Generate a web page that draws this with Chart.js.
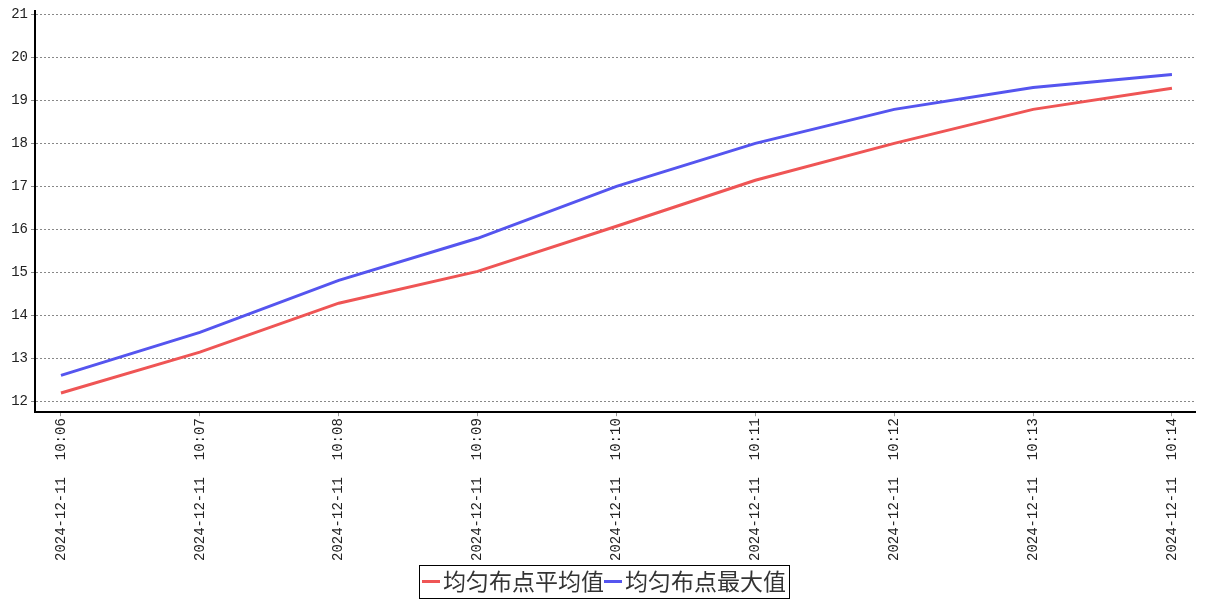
<!DOCTYPE html>
<html>
<head>
<meta charset="utf-8">
<script src="https://cdn.jsdelivr.net/npm/chart.js@4/dist/chart.umd.min.js"></script>
<style>
  html, body { margin: 0; padding: 0; background: #fff; }
  #wrap { width: 1207px; height: 600px; }
</style>
</head>
<body>
<div id="wrap"><canvas id="c"></canvas></div>
<script>
var timeLabels = ["2024-12-11  10:06", "2024-12-11  10:07", "2024-12-11  10:08", "2024-12-11  10:09",
  "2024-12-11  10:10", "2024-12-11  10:11", "2024-12-11  10:12", "2024-12-11  10:13", "2024-12-11  10:14"];
var avgValues = [12.19, 13.14, 14.28, 15.02, 16.07, 17.14, 18.0, 18.79, 19.28];
var maxValues = [12.60, 13.60, 14.81, 15.79, 17.0, 18.0, 18.79, 19.30, 19.60];
var yTicks = [12, 13, 14, 15, 16, 17, 18, 19, 20, 21];
var seriesNames = ["均匀布点平均值", "均匀布点最大值"];
var seriesColors = ["#ef5555", "#5555ef"];

function toPoints(values) {
  return values.map(function (v, i) { return { x: i, y: v }; });
}

// hand-drawn legend: short line + text, whole thing boxed in a black frame
var boxedLegend = {
  id: "boxedLegend",
  afterDraw: function (chart) {
    var ctx = chart.ctx;
    var font = "23px 'Noto Sans CJK SC', sans-serif";
    var symW = 18, gap = 3;
    ctx.save();
    ctx.font = font;
    var widths = chart.data.datasets.map(function (ds) { return ctx.measureText(ds.label).width; });
    var total = widths.reduce(function (s, w) { return s + symW + gap + w; }, 0);
    var x = Math.round(chart.width / 2 - total / 2);
    var cy = 581.5;
    ctx.strokeStyle = "#000";
    ctx.lineWidth = 1;
    ctx.strokeRect(x - 3 + 0.5, 565.5, Math.round(total + 6), 33);
    chart.data.datasets.forEach(function (ds, i) {
      ctx.strokeStyle = ds.borderColor;
      ctx.lineWidth = 3;
      ctx.beginPath();
      ctx.moveTo(x, cy);
      ctx.lineTo(x + symW, cy);
      ctx.stroke();
      ctx.fillStyle = "#333";
      ctx.textBaseline = "middle";
      ctx.textAlign = "left";
      ctx.fillText(ds.label, x + symW + gap, cy);
      x += symW + gap + widths[i];
    });
    ctx.restore();
  }
};

var tickFont = { family: "'Liberation Mono', monospace", size: 14 };

new Chart(document.getElementById("c").getContext("2d"), {
  type: "line",
  data: {
    datasets: [
      {
        label: seriesNames[0],
        data: toPoints(avgValues),
        borderColor: seriesColors[0],
        backgroundColor: seriesColors[0],
        borderWidth: 3,
        pointRadius: 0,
        tension: 0
      },
      {
        label: seriesNames[1],
        data: toPoints(maxValues),
        borderColor: seriesColors[1],
        backgroundColor: seriesColors[1],
        borderWidth: 3,
        pointRadius: 0,
        tension: 0
      }
    ]
  },
  options: {
    responsive: true,
    maintainAspectRatio: false,
    animation: false,
    layout: { padding: { top: 10, right: 12, left: 0, bottom: 37 } },
    plugins: {
      legend: { display: false },
      tooltip: { enabled: false }
    },
    scales: {
      x: {
        type: "linear",
        min: -0.187,
        max: 8.166,
        afterBuildTicks: function (axis) {
          axis.ticks = timeLabels.map(function (_, i) { return { value: i }; });
        },
        ticks: {
          autoSkip: false,
          minRotation: 90,
          maxRotation: 90,
          color: "#222",
          font: tickFont,
          padding: 2,
          callback: function (v) { return timeLabels[v]; }
        },
        grid: { display: true, drawOnChartArea: false, drawTicks: true, tickLength: 4, color: "#999" },
        border: { display: true, color: "#000", width: 2 }
      },
      y: {
        min: 11.744,
        max: 21.07,
        afterBuildTicks: function (axis) {
          axis.ticks = yTicks.map(function (v) { return { value: v }; });
        },
        afterFit: function (axis) { axis.width = 35; },
        ticks: {
          color: "#222",
          font: tickFont,
          padding: 3
        },
        grid: {
          color: "#888",
          lineWidth: 1,
          tickLength: 4,
          tickColor: "#888"
        },
        border: { display: true, color: "#000", width: 2, dash: [2, 2] }
      }
    }
  },
  plugins: [boxedLegend]
});
</script>
</body>
</html>
